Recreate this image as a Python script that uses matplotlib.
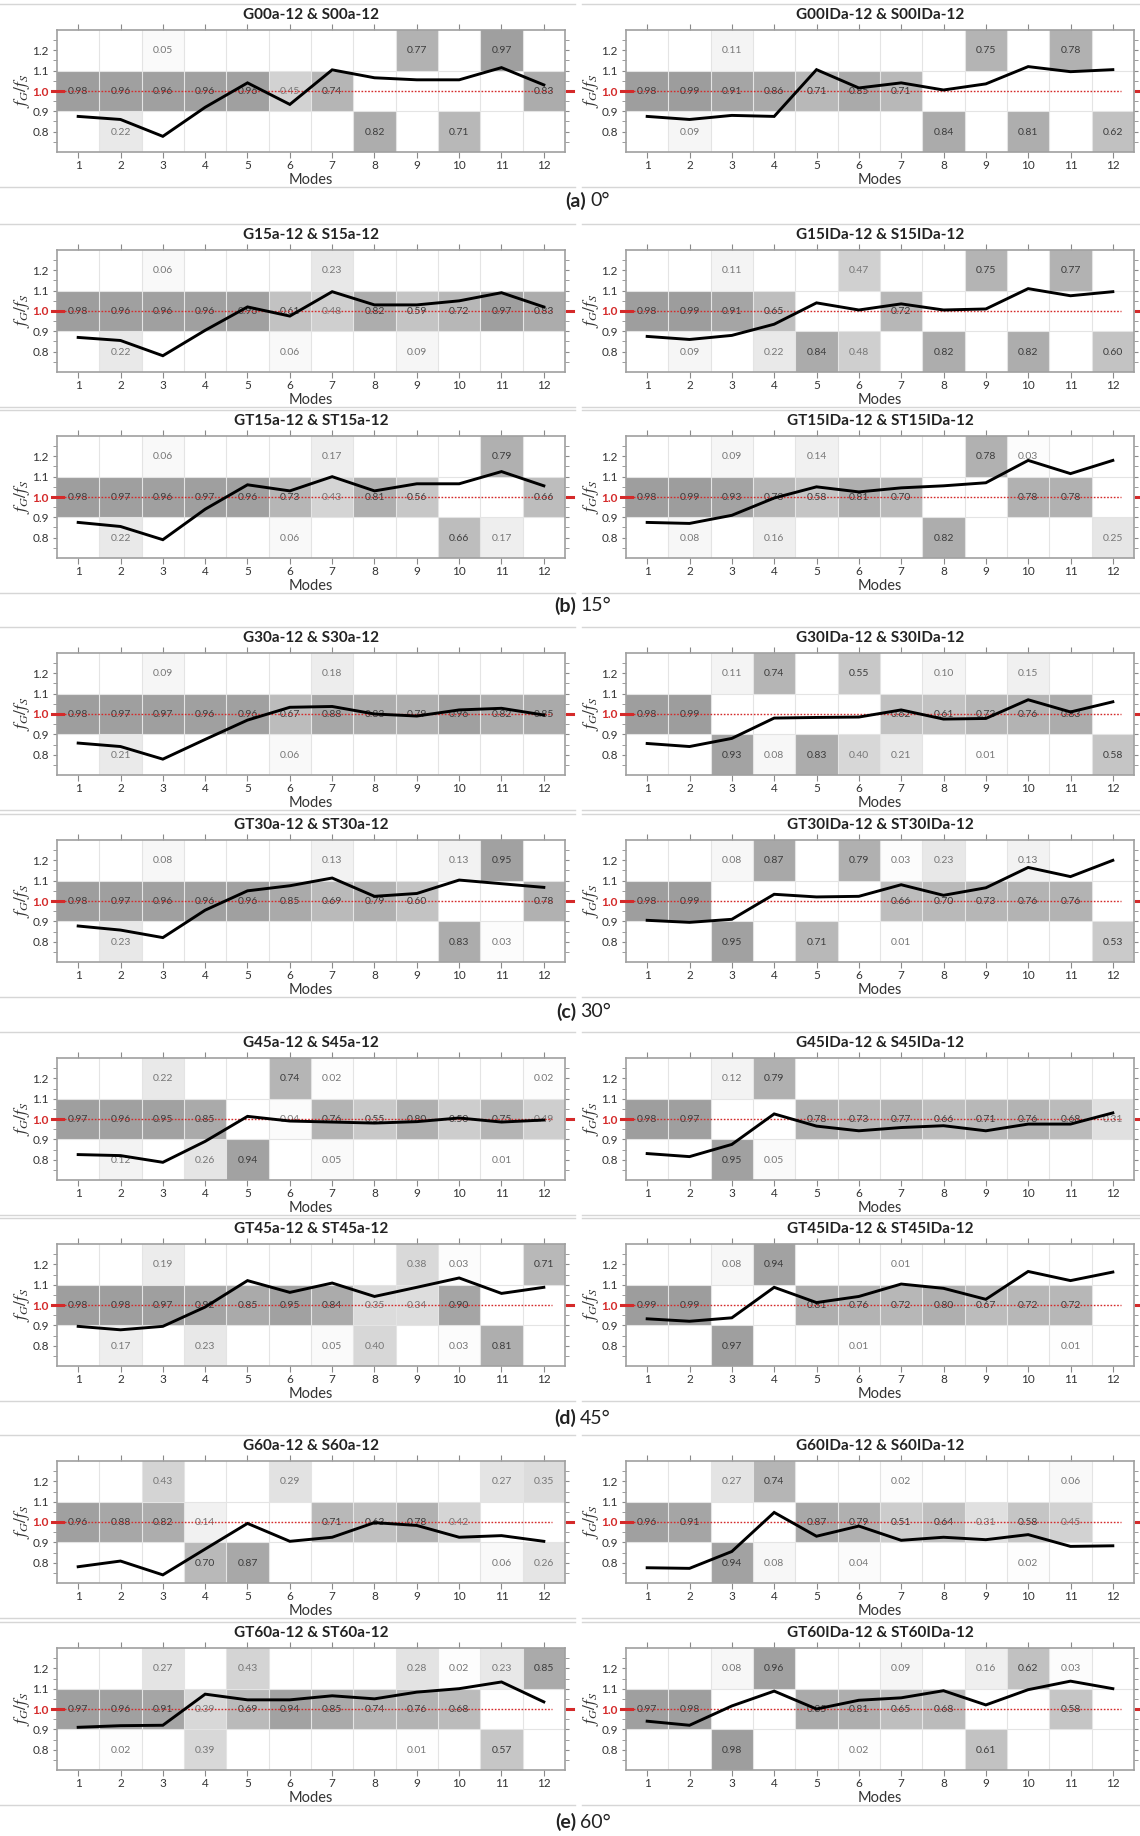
import matplotlib
matplotlib.use('Agg')
import matplotlib.pyplot as plt
from matplotlib.patches import Rectangle
from matplotlib.lines import Line2D
from matplotlib.transforms import blended_transform_factory
import numpy as np

plt.rcParams['font.family'] = ['Lato', 'DejaVu Sans']
plt.rcParams['mathtext.fontset'] = 'stix'

_ = None
modes = list(range(1, 13))

# frequency ratio per mode and shaded cell values (upper, middle, lower band)
G00a_ratio = [0.875, 0.86, 0.777, 0.92, 1.04, 0.934, 1.104, 1.065, 1.055, 1.055, 1.115, 1.03]
G00a_cells = [[_, _, .05, _, _, _, _, _, .77, _, .97, _],
              [.98, .96, .96, .96, .96, .45, .74, _, _, _, _, .83],
              [_, .22, _, _, _, _, _, .82, _, .71, _, _]]
G00IDa_ratio = [0.875, 0.86, 0.88, 0.875, 1.105, 1.015, 1.04, 1.005, 1.035, 1.12, 1.095, 1.105]
G00IDa_cells = [[_, _, .11, _, _, _, _, _, .75, _, .78, _],
                [.98, .99, .91, .86, .71, .85, .71, _, _, _, _, _],
                [_, .09, _, _, _, _, _, .84, _, .81, _, .62]]

G15a_ratio = [0.87, 0.855, 0.78, 0.905, 1.02, 0.975, 1.095, 1.03, 1.03, 1.05, 1.09, 1.02]
G15a_cells = [[_, _, .06, _, _, _, .23, _, _, _, _, _],
              [.98, .96, .96, .96, .96, .61, .48, .82, .59, .72, .97, .83],
              [_, .22, _, _, _, .06, _, _, .09, _, _, _]]
G15IDa_ratio = [0.875, 0.86, 0.88, 0.935, 1.04, 1.005, 1.035, 1.005, 1.01, 1.11, 1.075, 1.095]
G15IDa_cells = [[_, _, .11, _, _, .47, _, _, .75, _, .77, _],
                [.98, .99, .91, .65, _, _, .72, _, _, _, _, _],
                [_, .09, _, .22, .84, .48, _, .82, _, .82, _, .60]]

GT15a_ratio = [0.875, 0.855, 0.79, 0.94, 1.06, 1.03, 1.10, 1.03, 1.065, 1.065, 1.125, 1.055]
GT15a_cells = [[_, _, .06, _, _, _, .17, _, _, _, .79, _],
               [.98, .97, .96, .97, .96, .73, .43, .81, .56, _, _, .66],
               [_, .22, _, _, _, .06, _, _, _, .66, .17, _]]
GT15IDa_ratio = [0.875, 0.87, 0.91, 0.995, 1.05, 1.025, 1.045, 1.055, 1.07, 1.18, 1.115, 1.18]
GT15IDa_cells = [[_, _, .09, _, .14, _, _, _, .78, .03, _, _],
                 [.98, .99, .93, .73, .58, .81, .70, _, _, .78, .78, _],
                 [_, .08, _, .16, _, _, _, .82, _, _, _, .25]]

G30a_ratio = [0.857, 0.84, 0.778, 0.875, 0.97, 1.033, 1.037, 1.0, 0.99, 1.02, 1.028, 0.995]
G30a_cells = [[_, _, .09, _, _, _, .18, _, _, _, _, _],
              [.98, .97, .97, .96, .96, .67, .88, .83, .79, .96, .82, .85],
              [_, .21, _, _, _, .06, _, _, _, _, _, _]]
G30IDa_ratio = [0.855, 0.84, 0.88, 0.98, 0.983, 0.985, 1.02, 0.975, 0.978, 1.07, 1.01, 1.06]
G30IDa_cells = [[_, _, .11, .74, _, .55, _, .10, _, .15, _, _],
                [.98, .99, _, _, _, _, .62, .61, .73, .76, .83, _],
                [_, _, .93, .08, .83, .40, .21, _, .01, _, _, .58]]

GT30a_ratio = [0.877, 0.857, 0.82, 0.955, 1.05, 1.075, 1.113, 1.023, 1.037, 1.103, 1.085, 1.067]
GT30a_cells = [[_, _, .08, _, _, _, .13, _, _, .13, .95, _],
               [.98, .97, .96, .96, .96, .85, .69, .79, .60, _, _, .78],
               [_, .23, _, _, _, _, _, _, _, .83, .03, _]]
GT30IDa_ratio = [0.905, 0.895, 0.91, 1.033, 1.02, 1.023, 1.08, 1.028, 1.065, 1.165, 1.12, 1.20]
GT30IDa_cells = [[_, _, .08, .87, _, .79, .03, .23, _, .13, _, _],
                 [.98, .99, _, _, _, _, .66, .70, .73, .76, .76, _],
                 [_, _, .95, _, .71, _, .01, _, _, _, _, .53]]

G45a_ratio = [0.825, 0.82, 0.787, 0.89, 1.013, 0.99, 0.985, 0.98, 0.987, 1.005, 0.985, 0.995]
G45a_cells = [[_, _, .22, _, _, .74, .02, _, _, _, _, .02],
              [.97, .96, .95, .85, _, .04, .76, .55, .80, .50, .75, .49],
              [_, .12, _, .26, .94, _, .05, _, _, _, .01, _]]
G45IDa_ratio = [0.83, 0.815, 0.875, 1.025, 0.965, 0.942, 0.958, 0.967, 0.942, 0.975, 0.975, 1.03]
G45IDa_cells = [[_, _, .12, .79, _, _, _, _, _, _, _, _],
                [.98, .97, _, _, .78, .73, .77, .66, .71, .76, .68, .31],
                [_, _, .95, .05, _, _, _, _, _, _, _, _]]

GT45a_ratio = [0.895, 0.878, 0.895, 0.99, 1.12, 1.062, 1.108, 1.042, 1.087, 1.133, 1.057, 1.087]
GT45a_cells = [[_, _, .19, _, _, _, _, _, .38, .03, _, .71],
               [.98, .98, .97, .92, .85, .95, .84, .35, .34, .90, _, _],
               [_, .17, _, .23, _, _, .05, .40, _, .03, .81, _]]
GT45IDa_ratio = [0.932, 0.92, 0.937, 1.087, 1.012, 1.042, 1.103, 1.082, 1.028, 1.165, 1.12, 1.162]
GT45IDa_cells = [[_, _, .08, .94, _, _, .01, _, _, _, _, _],
                 [.99, .99, _, _, .81, .76, .72, .80, .67, .72, .72, _],
                 [_, _, .97, _, _, .01, _, _, _, _, .01, _]]

G60a_ratio = [0.78, 0.808, 0.74, 0.867, 0.993, 0.905, 0.925, 0.997, 0.983, 0.925, 0.933, 0.905]
G60a_cells = [[_, _, .43, _, _, .29, _, _, _, _, .27, .35],
              [.96, .88, .82, .14, _, _, .71, .63, .78, .42, _, _],
              [_, _, _, .70, .87, _, _, _, _, _, .06, .26]]
G60IDa_ratio = [0.775, 0.772, 0.855, 1.047, 0.93, 0.98, 0.91, 0.925, 0.913, 0.938, 0.88, 0.883]
G60IDa_cells = [[_, _, .27, .74, _, _, .02, _, _, _, .06, _],
                [.96, .91, _, _, .87, .79, .51, .64, .31, .58, .45, _],
                [_, _, .94, .08, _, .04, _, _, _, .02, _, _]]

GT60a_ratio = [0.91, 0.918, 0.92, 1.073, 1.045, 1.045, 1.065, 1.05, 1.083, 1.10, 1.133, 1.035]
GT60a_cells = [[_, _, .27, _, .43, _, _, _, .28, .02, .23, .85],
               [.97, .96, .91, .39, .69, .94, .85, .74, .76, .68, _, _],
               [_, .02, _, .39, _, _, _, _, .01, _, .57, _]]
GT60IDa_ratio = [0.94, 0.92, 1.015, 1.088, 1.0, 1.043, 1.055, 1.09, 1.02, 1.095, 1.137, 1.10]
GT60IDa_cells = [[_, _, .08, .96, _, _, .09, _, .16, .62, .03, _],
                 [.97, .98, _, _, .85, .81, .65, .68, _, _, .58, _],
                 [_, _, .98, _, _, .02, _, _, .61, _, _, _]]

rows = [
    [("G00a-12 & S00a-12", G00a_ratio, G00a_cells), ("G00IDa-12 & S00IDa-12", G00IDa_ratio, G00IDa_cells)],
    [("G15a-12 & S15a-12", G15a_ratio, G15a_cells), ("G15IDa-12 & S15IDa-12", G15IDa_ratio, G15IDa_cells)],
    [("GT15a-12 & ST15a-12", GT15a_ratio, GT15a_cells), ("GT15IDa-12 & ST15IDa-12", GT15IDa_ratio, GT15IDa_cells)],
    [("G30a-12 & S30a-12", G30a_ratio, G30a_cells), ("G30IDa-12 & S30IDa-12", G30IDa_ratio, G30IDa_cells)],
    [("GT30a-12 & ST30a-12", GT30a_ratio, GT30a_cells), ("GT30IDa-12 & ST30IDa-12", GT30IDa_ratio, GT30IDa_cells)],
    [("G45a-12 & S45a-12", G45a_ratio, G45a_cells), ("G45IDa-12 & S45IDa-12", G45IDa_ratio, G45IDa_cells)],
    [("GT45a-12 & ST45a-12", GT45a_ratio, GT45a_cells), ("GT45IDa-12 & ST45IDa-12", GT45IDa_ratio, GT45IDa_cells)],
    [("G60a-12 & S60a-12", G60a_ratio, G60a_cells), ("G60IDa-12 & S60IDa-12", G60IDa_ratio, G60IDa_cells)],
    [("GT60a-12 & ST60a-12", GT60a_ratio, GT60a_cells), ("GT60IDa-12 & ST60IDa-12", GT60IDa_ratio, GT60IDa_cells)],
]
captions = [("(a)", "0°"), ("(b)", "15°"), ("(c)", "30°"), ("(d)", "45°"), ("(e)", "60°")]

# layout in pixels
W, H = 1140, 1836
title_y = [15, 235, 421, 638, 825, 1043, 1229, 1446, 1633]
caption_y = [201, 606, 1012, 1418, 1822]
col_x = [57, 626]
ax_w, ax_h = 508, 122
band_edges = [(1.1, 1.3), (0.9, 1.1), (0.7, 0.9)]
RED = '#d42a2a'

fig = plt.figure(figsize=(W / 100, H / 100), dpi=100)


def shade(v):
    g = 1 - 0.39 * v
    return (g, g, g)


def draw_panel(ax, title, ratio, cells):
    ax.set_xlim(0.5, 12.5)
    ax.set_ylim(0.7, 1.3)
    for band, (lo, hi) in zip(cells, band_edges):
        for m, v in zip(modes, band):
            if v is None:
                continue
            ax.add_patch(Rectangle((m - 0.5, lo), 1, hi - lo, fc=shade(v), ec='none', zorder=1))
            ax.text(m, (lo + hi) / 2 - 0.003, f'{v:.2f}', ha='center', va='center', fontsize=7.5,
                    color='#3c3c3c' if v >= 0.5 else '#777777', zorder=3)
    for xb in np.arange(1.5, 12.5, 1):
        ax.axvline(xb, color='#e4e4e4', lw=0.8, zorder=2)
    for yb in (0.9, 1.1):
        ax.axhline(yb, color='#e4e4e4', lw=0.8, zorder=2)
    ax.plot([0.6, 12.2], [1, 1], color=RED, ls=(0, (1.2, 1.2)), lw=1.0, zorder=4)
    ax.plot(modes, ratio, color='black', lw=2.1, zorder=5, solid_joinstyle='miter')

    ax.set_xticks(modes)
    ax.set_yticks([0.8, 0.9, 1.0, 1.1, 1.2])
    ax.set_yticklabels(['0.8', '0.9', '1.0', '1.1', '1.2'])
    ax.set_yticks(np.arange(0.75, 1.3, 0.05), minor=True)
    ax.tick_params(axis='x', which='both', top=True, bottom=True, direction='out', length=4,
                   color='#8a8a8a', labelsize=8.5, labelcolor='#333333', pad=2)
    ax.tick_params(axis='y', which='both', left=True, right=True, direction='out', length=3,
                   color='#8a8a8a', labelsize=8.5, labelcolor='#333333', pad=3)
    lab = ax.get_yticklabels()[2]
    lab.set_color(RED)
    lab.set_fontweight('bold')
    for s in ax.spines.values():
        s.set_color('#a0a0a0')
        s.set_linewidth(1.2)

    # red markers for the unit ratio on both sides
    tr = blended_transform_factory(ax.transAxes, ax.transData)
    ax.plot([-0.009, 0.012], [1, 1], transform=tr, color=RED, lw=2.2, clip_on=False, zorder=6)
    ax.plot([1.003, 1.016], [1, 1], transform=tr, color=RED, lw=2.2, clip_on=False, zorder=6)

    ax.set_xlabel('Modes', fontsize=10.5, color='#333333', labelpad=1)
    ax.set_ylabel(r'$f_G/f_S$', fontsize=12.5, color='#333333')
    ax.yaxis.set_label_coords(-0.05, 0.5)


for r, (row, ty) in enumerate(zip(rows, title_y)):
    for c, (title, ratio, cells) in enumerate(row):
        x0 = col_x[c]
        top = ty + 15
        ax = fig.add_axes([x0 / W, 1 - (top + ax_h) / H, ax_w / W, ax_h / H])
        draw_panel(ax, title, ratio, cells)
        fig.text((x0 + ax_w / 2) / W, 1 - ty / H, title, ha='center', va='center',
                 fontsize=11, fontweight='bold', color='#222222')
    # thin frame lines between the rows
    for yy in (ty - 11, ty + 172):
        for xa, xb in ((0, 575), (582, W)):
            fig.add_artist(Line2D([xa / W, xb / W], [1 - yy / H, 1 - yy / H],
                                  color='#d6d6d6', lw=1.0, transform=fig.transFigure))

for (tag, angle), cy in zip(captions, caption_y):
    split = 586 if angle == '0°' else 576
    fig.text(split / W, 1 - cy / H, tag, ha='right', va='center', fontsize=14, fontweight='bold',
             color='#222222')
    fig.text((split + 4) / W, 1 - cy / H, angle, ha='left', va='center', fontsize=14, color='#222222')

fig.savefig('out.png', dpi=100, facecolor='white')
